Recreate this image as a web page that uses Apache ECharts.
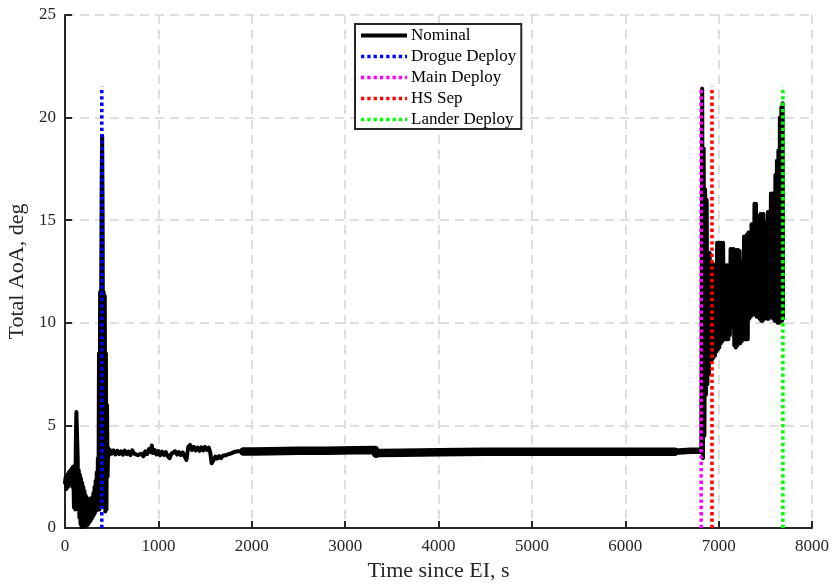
<!DOCTYPE html>
<html>
<head>
<meta charset="utf-8">
<script src="https://cdn.jsdelivr.net/npm/echarts@6/dist/echarts.min.js"></script>
<style>
  html, body { margin: 0; padding: 0; background: #ffffff; }
  #chart { width: 834px; height: 584px; }
</style>
</head>
<body>
<div id="chart"></div>
<script>
// Total angle of attack vs time since entry interface (EI), nominal trajectory.

// Entry phase: early oscillations and the drogue-deploy transient, [time s, AoA deg]
const entryPhase = [
  [0, 2.2], [8, 2.5], [16, 1.9], [24, 2.6], [32, 2.0], [40, 2.7], [48, 2.1], [56, 2.8],
  [64, 2.2], [72, 2.9], [80, 2.0], [88, 3.0], [96, 1.0], [104, 2.8], [110, 0.9], [116, 4.2],
  [122, 5.65], [130, 5.6], [136, 3.4], [142, 0.9], [148, 2.8], [154, 0.5], [160, 2.6], [166, 0.2],
  [172, 2.4], [178, 0.05], [184, 2.2], [190, 0.05], [196, 2.0], [202, 0.05], [208, 1.8], [214, 0.1],
  [220, 1.6], [226, 0.1], [232, 1.5], [238, 0.15], [244, 1.4], [250, 0.2], [256, 1.4], [262, 0.3],
  [268, 1.4], [274, 0.35], [280, 1.45], [286, 0.45], [292, 1.5], [298, 0.55], [304, 1.7], [310, 0.65],
  [316, 2.0], [322, 0.75], [328, 2.3], [334, 0.85], [340, 2.7], [346, 0.9], [352, 3.4], [358, 1.0],
  [364, 8.5], [370, 0.9], [376, 11.5], [382, 1.0], [388, 12.0], [393, 17.0], [398, 19.1], [403, 15.0],
  [408, 4.0], [414, 11.5], [420, 1.0], [426, 11.3], [432, 0.8], [438, 8.5], [444, 0.9], [450, 6.0],
  [456, 2.5], [462, 3.9]
];

// Drogue descent: noisy AoA near 3.7 deg
const droguePhase = [
  [470, 3.55], [480, 3.80], [500, 3.62], [520, 3.78], [540, 3.58], [560, 3.76], [580, 3.60],
  [600, 3.74], [620, 3.57], [640, 3.77], [660, 3.60], [680, 3.72], [700, 3.55], [720, 3.78],
  [740, 3.62], [760, 3.70], [780, 3.55], [800, 3.48], [820, 3.62], [840, 3.50], [860, 3.74],
  [880, 3.60], [900, 3.85], [920, 3.70], [930, 4.02], [940, 3.65], [960, 3.80], [980, 3.58],
  [1000, 3.75], [1020, 3.55], [1040, 3.72], [1060, 3.56], [1080, 3.70], [1100, 3.50], [1120, 3.40],
  [1140, 3.62], [1160, 3.55], [1180, 3.74], [1200, 3.58], [1220, 3.70], [1240, 3.55], [1260, 3.68],
  [1280, 3.50], [1300, 3.32], [1320, 3.95], [1340, 4.05], [1360, 3.80], [1380, 3.95], [1400, 3.78],
  [1420, 3.92], [1440, 3.76], [1460, 3.93], [1480, 3.78], [1500, 3.95], [1520, 3.80], [1540, 3.92],
  [1555, 3.70], [1570, 3.15], [1590, 3.30], [1610, 3.48], [1630, 3.38], [1650, 3.50], [1670, 3.40],
  [1690, 3.52], [1710, 3.44], [1730, 3.56], [1750, 3.50], [1770, 3.62], [1790, 3.56], [1810, 3.70],
  [1830, 3.66], [1850, 3.74], [1870, 3.70], [1885, 3.74], [1900, 3.73]
];

// Long quasi-steady stretch: mean of the fast small oscillation band
const cruisePhase = [
  [1910, 3.73], [2000, 3.73], [2200, 3.74], [2500, 3.76], [2800, 3.77], [3100, 3.79], [3320, 3.80],
  [3332, 3.62], [3342, 3.57], [3355, 3.66], [3600, 3.67], [4000, 3.69], [4500, 3.71], [5000, 3.72],
  [5600, 3.72], [6200, 3.72], [6530, 3.72]
];

// Just before main deploy: narrower oscillation band
const preMainPhase = [
  [6530, 3.72], [6545, 3.77], [6700, 3.77], [6800, 3.77], [6815, 3.76]
];

// Main chute, heat-shield separation and lander deploy: large oscillations
const terminalPhase = [
  [6815, 3.76], [6824, 21.4], [6832, 3.4], [6840, 18.5], [6848, 4.5], [6856, 16.5], [6864, 6.5], [6872, 16.0],
  [6880, 7.0], [6888, 13.4], [6896, 7.5], [6904, 13.4], [6912, 8.2], [6920, 12.9], [6928, 8.2],
  [6936, 12.9], [6944, 8.3], [6952, 12.8], [6960, 8.4], [6968, 12.6], [6976, 8.6], [6984, 13.9],
  [6992, 8.7], [7000, 13.9], [7008, 8.8], [7016, 13.9], [7024, 9.0], [7032, 13.9], [7040, 9.1],
  [7048, 13.9], [7056, 9.2], [7064, 12.8], [7072, 9.2], [7080, 12.8], [7088, 9.2], [7096, 12.8],
  [7104, 9.2], [7112, 12.8], [7120, 9.4], [7128, 13.6], [7136, 9.8], [7144, 13.6], [7152, 9.8],
  [7160, 13.6], [7168, 8.9], [7176, 13.55], [7184, 8.8], [7192, 13.55], [7200, 8.9], [7208, 13.55],
  [7216, 9.0], [7224, 13.5], [7232, 9.0], [7240, 13.0], [7248, 9.1], [7256, 13.0], [7264, 9.2],
  [7272, 14.2], [7280, 9.2], [7288, 14.2], [7296, 9.2], [7304, 14.3], [7312, 9.2], [7320, 14.4],
  [7328, 10.2], [7336, 14.4], [7344, 10.3], [7352, 14.8], [7360, 10.4], [7368, 14.8], [7376, 10.4],
  [7384, 15.8], [7392, 10.4], [7400, 15.8], [7408, 10.3], [7416, 15.2], [7424, 10.3], [7432, 15.2],
  [7440, 10.2], [7448, 15.3], [7456, 10.1], [7464, 15.3], [7472, 10.1], [7480, 15.3], [7488, 10.2],
  [7496, 14.9], [7504, 10.3], [7512, 14.9], [7520, 10.2], [7528, 15.4], [7536, 10.2], [7544, 15.4],
  [7552, 10.3], [7560, 16.3], [7568, 10.3], [7576, 16.3], [7584, 10.2], [7592, 16.3], [7600, 10.1],
  [7608, 17.2], [7616, 10.1], [7624, 17.9], [7632, 10.0], [7640, 18.4], [7648, 10.0], [7656, 20.0],
  [7664, 10.1], [7672, 20.5], [7680, 10.1], [7686, 20.7], [7690, 10.2]
];

// Event times (s) and height of the event markers (deg)
const drogueDeployTime = 394;
const mainDeployTime = 6813;
const hsSepTime = 6929;
const landerDeployTime = 7688;
const eventMarkerTop = 21.5;

// Axis ranges
const xMin = 0, xMax = 8000, xStep = 1000;
const yMin = 0, yMax = 25, yStep = 5;

const serif = "'Liberation Serif', 'DejaVu Serif', serif";
const axisColor = '#262626';
const dotted = [3.3, 3];

// One trace, drawn in pieces; the stroke width follows the width of its oscillation band
function nominalSeries(points, width) {
  return {
    name: 'Nominal',
    type: 'line',
    symbol: 'none',
    silent: true,
    animation: false,
    data: points,
    lineStyle: { color: '#000000', width: width, join: 'round', cap: 'round' },
    itemStyle: { color: '#000000' }
  };
}

function eventSeries(name, t, color) {
  return {
    name: name,
    type: 'line',
    symbol: 'none',
    silent: true,
    animation: false,
    data: [[t, 0], [t, eventMarkerTop]],
    lineStyle: { color: color, width: 3.6, type: dotted, cap: 'butt' },
    itemStyle: { color: color }
  };
}

const chart = echarts.init(document.getElementById('chart'), null, { renderer: 'canvas' });

chart.setOption({
  backgroundColor: '#ffffff',
  animation: false,
  grid: { left: 65, right: 22, top: 15, bottom: 56, containLabel: false, outerBoundsMode: 'none' },
  xAxis: {
    type: 'value',
    min: xMin, max: xMax, interval: xStep,
    name: 'Time since EI, s',
    nameLocation: 'middle',
    nameGap: 31,
    nameTextStyle: { fontFamily: serif, fontSize: 22, color: axisColor },
    axisLine: { show: true, onZero: false, lineStyle: { color: axisColor, width: 2 } },
    axisTick: { show: true, inside: true, length: 7, lineStyle: { color: axisColor, width: 2 } },
    axisLabel: { fontFamily: serif, fontSize: 17, color: axisColor, margin: 10, formatter: (v) => String(v) },
    splitLine: { show: true, lineStyle: { color: '#dedede', width: 2, type: [9, 6] } }
  },
  yAxis: {
    type: 'value',
    min: yMin, max: yMax, interval: yStep,
    name: 'Total AoA, deg',
    nameLocation: 'middle',
    nameGap: 35,
    nameRotate: 90,
    nameTextStyle: { fontFamily: serif, fontSize: 22, color: axisColor },
    axisLine: { show: true, onZero: false, lineStyle: { color: axisColor, width: 2 } },
    axisTick: { show: true, inside: true, length: 7, lineStyle: { color: axisColor, width: 2 } },
    axisLabel: { fontFamily: serif, fontSize: 17, color: axisColor, margin: 9 },
    splitLine: { show: true, lineStyle: { color: '#dedede', width: 2, type: [9, 6] } }
  },
  legend: {
    orient: 'vertical',
    left: 355,
    top: 24,
    align: 'left',
    itemWidth: 46,
    itemHeight: 14,
    itemGap: 4,
    padding: [3, 5, 1, 4],
    backgroundColor: '#ffffff',
    borderColor: axisColor,
    borderWidth: 2,
    itemStyle: { opacity: 0 },
    lineStyle: { width: 'inherit', cap: 'butt' },
    textStyle: { fontFamily: serif, fontSize: 17, color: '#000000', padding: [0, 0, 0, -1] },
    data: ['Nominal', 'Drogue Deploy', 'Main Deploy', 'HS Sep', 'Lander Deploy']
  },
  series: [
    nominalSeries(entryPhase.concat(droguePhase), 4),
    nominalSeries(cruisePhase, 8.5),
    nominalSeries(preMainPhase, 6.5),
    nominalSeries(terminalPhase, 4),
    eventSeries('Drogue Deploy', drogueDeployTime, '#0000ff'),
    eventSeries('Main Deploy', mainDeployTime, '#ff00ff'),
    eventSeries('HS Sep', hsSepTime, '#ff0000'),
    eventSeries('Lander Deploy', landerDeployTime, '#00ff00')
  ]
});
</script>
</body>
</html>
